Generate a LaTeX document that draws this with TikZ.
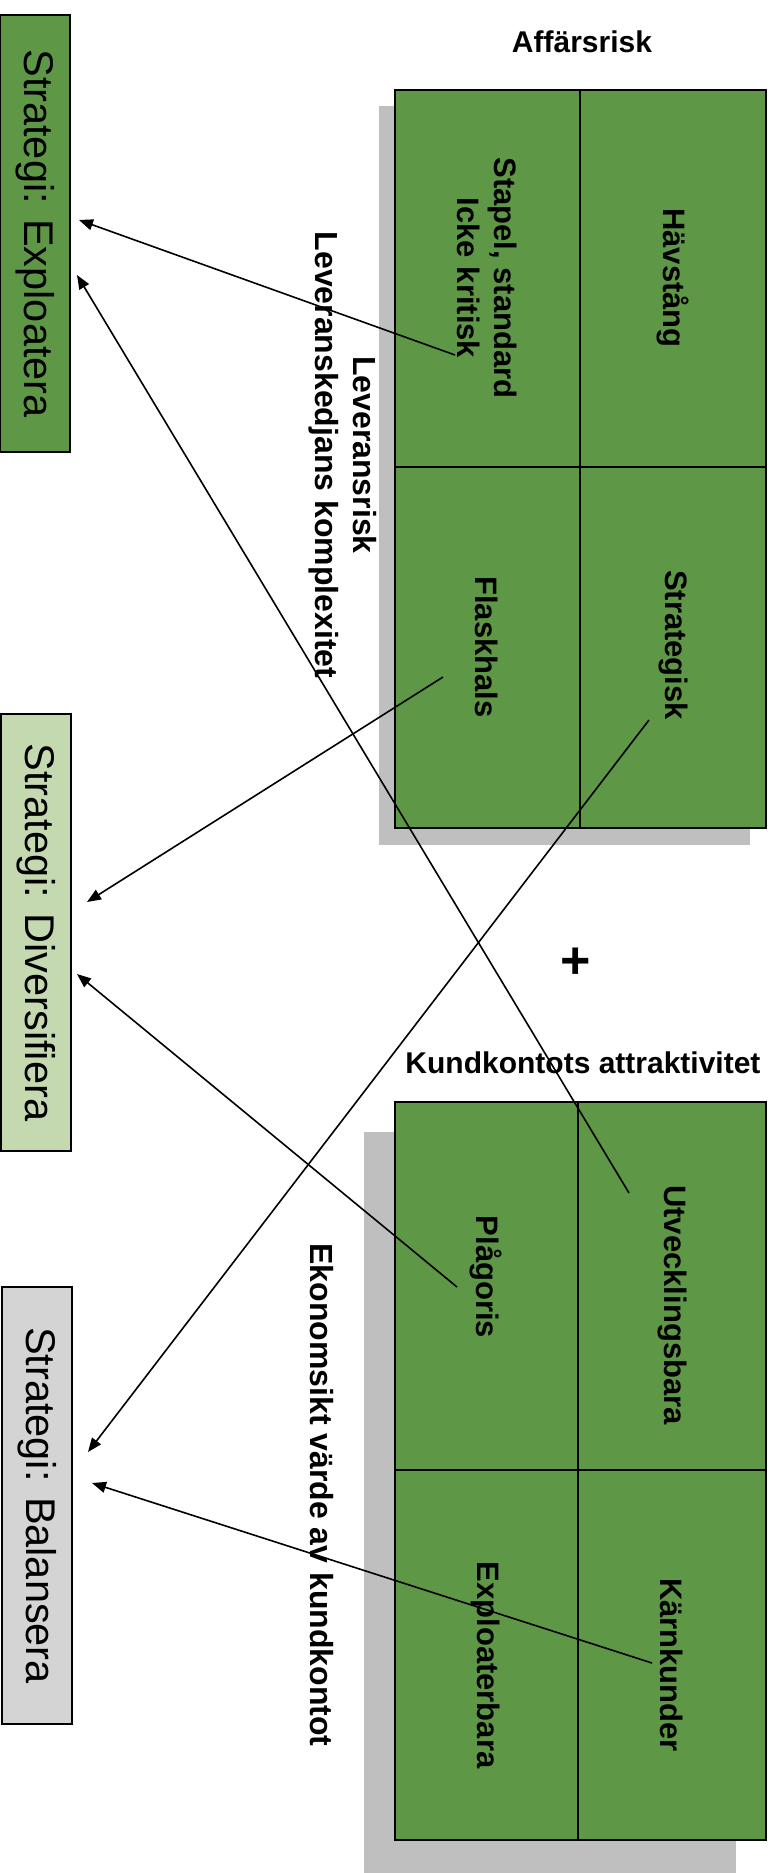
\documentclass[tikz,border=0pt]{standalone}
\usepackage{fontspec}
\setmainfont{Liberation Sans}
\usetikzlibrary{arrows.meta}
\definecolor{matgreen}{HTML}{5E9745}
\definecolor{lightgreen}{HTML}{C4D9B0}
\definecolor{boxgray}{HTML}{D4D4D4}
\definecolor{shadowgray}{HTML}{BFBFBF}
\tikzset{
  stratbox/.style={draw, line width=1pt, rotate=-90, minimum width=218.5pt,
    minimum height=35pt, inner sep=0pt, font=\fontsize{20.75}{24}\selectfont},
  cell/.style={rotate=-90, align=center, inner sep=0pt,
    font=\fontsize{15.5}{18.5}\selectfont\bfseries},
  axislabel/.style={rotate=-90, align=center, inner sep=0pt,
    font=\fontsize{16}{19}\selectfont\bfseries},
  toplabel/.style={anchor=base, inner sep=0pt, font=\fontsize{15}{18}\selectfont\bfseries},
  arr/.style={-{Triangle[length=7pt,width=5.5pt]}, line width=0.8pt}
}
\begin{document}
\begin{tikzpicture}[x=0.5pt,y=-0.5pt]
  \useasboundingbox (0,0) rectangle (775,1873);
  % strategier
  \node[stratbox, fill=matgreen] (expl) at (35,233.5) {Strategi: Exploatera};
  \node[stratbox, fill=lightgreen] (divers) at (36,932.5) {Strategi: Diversifiera};
  \node[stratbox, fill=boxgray] (balans) at (37,1505.5) {Strategi: Balansera};
  % leverantörsmatris
  \fill[shadowgray] (379,106) rectangle (750,845);
  \draw[fill=matgreen, line width=1pt] (395,90) rectangle (766,828);
  \draw[line width=1pt] (580,90) -- (580,828) (395,467) -- (766,467);
  \node[toplabel] (affars) at (582,53) {Affärsrisk};
  \node[cell] (havstang) at (673,278) {Hävstång};
  \node[cell] (stapel) at (487,278) {Stapel, standard\\Icke kritisk};
  \node[cell] (strategisk) at (673,645) {Strategisk};
  \node[cell] (flaskhals) at (487,647) {Flaskhals};
  \node[axislabel] (leverans) at (343,455) {Leveransrisk\\Leveranskedjans komplexitet};
  \node[font=\fontsize{26}{30}\selectfont\bfseries, inner sep=0pt] (plus) at (576,963) {+};
  % kundmatris
  \fill[shadowgray] (364,1132) rectangle (736,1873);
  \draw[fill=matgreen, line width=1pt] (395,1102) rectangle (766,1840);
  \draw[line width=1pt] (578,1102) -- (578,1840) (395,1470) -- (766,1470);
  \node[toplabel] (kundattr) at (583,1073) {Kundkontots attraktivitet};
  \node[cell] (utveckl) at (672,1305) {Utvecklingsbara};
  \node[cell] (plagoris) at (486,1277) {Plågoris};
  \node[cell] (karn) at (672,1665) {Kärnkunder};
  \node[cell] (exploat) at (486,1665) {Exploaterbara};
  \node[axislabel] (ekonomi) at (322,1495) {Ekonomsikt värde av kundkontot};
  % pilar
  \coordinate (fromStapel) at (455,355);
  \coordinate (fromUtveckl) at (629,1193);
  \coordinate (fromFlask) at (443,677);
  \coordinate (fromPlago) at (457,1287);
  \coordinate (fromStrat) at (649,720);
  \coordinate (fromKarn) at (652,1663);
  \coordinate (toExplA) at (79,220);
  \coordinate (toExplB) at (77,275);
  \coordinate (toDiversA) at (87,902);
  \coordinate (toDiversB) at (77,974);
  \coordinate (toBalansA) at (88,1452);
  \coordinate (toBalansB) at (92,1483);
  \draw[arr] (fromStapel) -- (toExplA);
  \draw[arr] (fromUtveckl) -- (toExplB);
  \draw[arr] (fromFlask) -- (toDiversA);
  \draw[arr] (fromPlago) -- (toDiversB);
  \draw[arr] (fromStrat) -- (toBalansA);
  \draw[arr] (fromKarn) -- (toBalansB);
\end{tikzpicture}
\end{document}
